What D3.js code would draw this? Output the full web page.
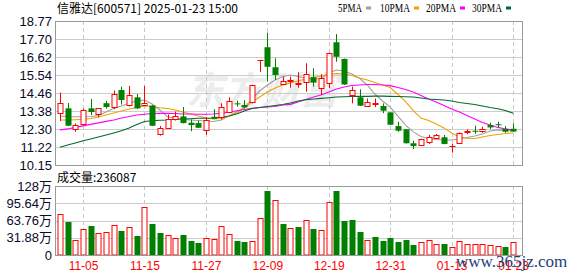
<!DOCTYPE html>
<html><head><meta charset="utf-8">
<script src="https://cdn.jsdelivr.net/npm/d3@7"></script>
<style>
body{margin:0;background:#fff;}
svg{display:block;}
text{font-family:"Liberation Sans",Arial,sans-serif;}
</style></head>
<body><svg id="c" width="578" height="276"></svg>
<script>
const title = "信雅达[600571] 2025-01-23 15:00";
const volLabelText = "成交量:236087";
const dates = ["10-31","11-01","11-04","11-05","11-06","11-07","11-08","11-11","11-12","11-13","11-14","11-15","11-18","11-19","11-20","11-21","11-22","11-25","11-26","11-27","11-28","11-29","12-02","12-03","12-04","12-05","12-06","12-09","12-10","12-11","12-12","12-13","12-16","12-17","12-18","12-19","12-20","12-23","12-24","12-25","12-26","12-27","12-30","12-31","01-02","01-03","01-06","01-07","01-08","01-09","01-10","01-13","01-14","01-15","01-16","01-17","01-20","01-21","01-22","01-23"];
const openP  = [13.25,13.54,12.33,12.60,13.54,13.20,13.85,13.60,14.64,13.74,14.20,13.72,13.71,12.00,12.39,12.93,13.06,12.68,12.66,12.25,13.04,13.04,13.34,13.84,13.74,13.94,16.43,17.20,16.00,15.02,15.18,14.98,15.14,15.40,14.78,15.04,17.50,16.50,14.34,14.20,13.70,13.82,13.68,13.30,12.48,12.29,11.45,11.35,11.55,11.75,11.81,11.27,11.47,12.14,12.20,12.20,12.54,12.59,12.31,12.32];
const highP  = [14.49,13.86,12.63,13.52,14.10,13.56,13.99,14.61,14.84,14.88,14.40,14.88,13.74,12.48,13.17,13.35,13.62,12.87,12.80,13.01,13.49,13.84,14.20,14.00,14.04,14.96,16.43,18.07,16.54,15.44,15.44,15.70,16.24,15.94,15.58,16.87,17.99,16.52,14.84,14.68,14.13,14.13,13.84,13.32,12.74,12.30,11.60,11.72,11.95,12.01,11.95,11.41,12.10,12.30,12.50,12.44,12.68,12.74,12.48,12.64];
const lowP   = [12.78,12.48,12.14,12.54,13.14,13.00,13.52,13.49,13.77,13.65,13.50,13.68,12.48,11.91,12.37,12.81,12.64,12.17,12.36,11.95,12.90,12.88,13.25,13.64,13.54,13.84,15.73,15.14,15.24,14.94,14.78,14.78,14.54,14.84,14.34,14.74,16.33,14.94,13.84,13.68,13.68,13.62,13.25,12.54,12.14,11.44,11.11,11.33,11.41,11.71,11.39,10.89,11.45,11.99,12.01,12.08,12.30,12.38,12.08,12.13];
const closeP = [13.84,12.50,12.53,13.42,13.32,13.54,13.62,14.40,14.04,14.34,13.54,13.84,12.50,12.39,12.93,13.11,12.66,12.54,12.38,12.84,12.92,13.60,13.96,13.78,13.60,14.94,16.43,16.03,15.54,15.18,15.24,15.04,15.58,15.08,15.34,16.87,16.63,14.97,14.64,13.70,13.90,13.88,13.40,12.56,12.20,11.45,11.29,11.69,11.81,11.95,11.41,11.30,12.06,12.18,12.14,12.30,12.40,12.54,12.14,12.15];
const ma5  = [13.08,13.05,13.04,13.04,13.05,13.11,13.32,13.54,13.68,13.86,13.98,14.04,13.80,13.44,13.04,12.95,12.87,12.84,12.81,12.78,12.75,12.84,13.08,13.34,13.59,14.10,14.58,14.94,15.24,15.45,15.54,15.45,15.34,15.30,15.33,15.66,15.84,15.78,15.60,15.34,14.94,14.40,13.98,13.62,13.08,12.54,12.13,11.86,11.74,11.68,11.65,11.65,11.71,11.80,11.89,12.01,12.19,12.25,12.22,12.21];
const ma10 = [12.84,12.84,12.86,12.89,12.93,13.02,13.14,13.26,13.38,13.50,13.59,13.68,13.65,13.58,13.53,13.44,13.32,13.20,13.08,12.96,12.90,12.93,13.08,13.26,13.56,13.92,14.22,14.52,14.76,14.94,15.06,15.18,15.30,15.39,15.48,15.57,15.63,15.60,15.51,15.36,15.24,15.09,14.94,14.79,14.37,13.95,13.41,12.96,12.81,12.60,12.37,12.07,11.83,11.75,11.74,11.83,11.92,11.98,12.04,12.07];
const ma20 = [12.25,12.31,12.40,12.49,12.58,12.67,12.76,12.84,12.96,13.05,13.14,13.19,13.23,13.24,13.24,13.23,13.20,13.20,13.19,13.19,13.20,13.24,13.32,13.40,13.47,13.54,13.59,13.62,13.65,13.74,13.78,13.92,14.07,14.22,14.34,14.52,14.70,14.82,14.91,14.94,14.97,14.97,14.94,14.90,14.79,14.67,14.52,14.31,14.10,13.92,13.71,13.50,13.32,13.11,12.90,12.69,12.54,12.40,12.31,12.25];
const ma30 = [11.21,11.35,11.47,11.60,11.71,11.83,11.95,12.07,12.20,12.37,12.57,12.75,12.80,12.83,12.84,12.89,12.90,12.92,12.95,12.95,12.96,13.01,13.08,13.20,13.38,13.53,13.59,13.65,13.71,13.77,13.86,13.98,14.06,14.10,14.14,14.18,14.22,14.24,14.25,14.26,14.26,14.27,14.27,14.26,14.25,14.24,14.22,14.16,14.10,14.07,14.04,13.98,13.89,13.83,13.77,13.68,13.59,13.52,13.41,13.25];
const volume = [75.8,61.0,27.7,48.0,53.6,40.7,42.5,55.4,44.4,51.7,35.1,88.7,57.3,40.7,37.0,31.4,37.0,25.9,22.2,31.4,29.6,53.6,38.8,25.9,24.0,25.9,68.4,118.3,101.6,57.3,49.9,51.7,64.7,48.0,46.2,97.9,118.3,62.8,64.7,42.5,27.7,33.3,25.9,31.4,24.0,27.7,18.5,24.0,27.7,20.3,20.3,14.8,25.9,20.3,20.3,20.3,18.5,16.6,14.8,23.6];
const volUp = [1,0,1,1,0,1,1,1,0,1,0,1,0,0,1,1,0,0,0,1,1,1,1,0,0,1,1,0,1,0,1,0,1,0,1,1,0,0,0,0,1,0,0,0,0,0,0,1,1,1,0,1,1,1,1,1,1,1,0,1];
const priceTicks = [18.77,17.70,16.62,15.54,14.46,13.38,12.30,11.22,10.15];
const volTicks = [127.52,95.64,63.76,31.88,0];
const volTickLabels = ["128万","95.64万","63.76万","31.88万","0"];
const dateTicks = ["11-05","11-15","11-27","12-09","12-19","12-31","01-13","01-23"];
const maNames = ["5PMA","10PMA","20PMA","30PMA"];
const maColors = ["#a0a0a0","#f0a000","#ff00ff","#006a30"];
const maSeries = [ma5, ma10, ma20, ma30];

const RED = "#ff0000", GREEN = "#008000";
const svg = d3.select("#c");
const L = 55, R = 522, T1 = 21, B1 = 165, T2 = 186, B2 = 255;

const x = d3.scalePoint().domain(dates).range([60, 513.1]);
const y = d3.scaleLinear().domain([10.15, 18.77]).range([B1, T1]);
const yv = d3.scaleLinear().domain([0, 127.52]).range([B2, T2]);

// watermark
svg.append("text").attr("x", 262).attr("y", 104).attr("text-anchor","middle")
  .style("font-family","'Noto Sans CJK SC'").style("font-size","38px").style("font-weight","bold")
  .style("font-style","italic").attr("fill","#ececec").text("东方财富");

// grids - price
const gP = svg.append("g");
gP.selectAll("line.h").data(priceTicks.slice(1, -1)).join("line")
  .attr("x1", L).attr("x2", R).attr("y1", d => Math.round(y(d)) + 0.5).attr("y2", d => Math.round(y(d)) + 0.5)
  .attr("stroke", "#cccccc");
gP.selectAll("line.v").data(dateTicks).join("line")
  .attr("x1", d => Math.round(x(d)) + 0.5).attr("x2", d => Math.round(x(d)) + 0.5)
  .attr("y1", T1).attr("y2", B1).attr("stroke", "#c8c8c8").attr("stroke-dasharray", "4,3");
// grids - volume
const gV = svg.append("g");
gV.selectAll("line.h").data(volTicks.slice(1, -1)).join("line")
  .attr("x1", L).attr("x2", R).attr("y1", d => Math.round(yv(d)) + 0.5).attr("y2", d => Math.round(yv(d)) + 0.5)
  .attr("stroke", "#cccccc");
gV.selectAll("line.v").data(dateTicks).join("line")
  .attr("x1", d => Math.round(x(d)) + 0.5).attr("x2", d => Math.round(x(d)) + 0.5)
  .attr("y1", T2).attr("y2", B2).attr("stroke", "#c8c8c8").attr("stroke-dasharray", "4,3");

// MA lines
const idx = d3.range(dates.length);
maSeries.forEach((s, k) => {
  svg.append("path").datum(idx)
    .attr("d", d3.line().x(i => x(dates[i])).y(i => y(s[i])))
    .attr("fill", "none").attr("stroke", maColors[k]).attr("stroke-width", 1.1);
});

// candles
const bw = 5;
const cg = svg.append("g");
idx.forEach(i => {
  const up = closeP[i] >= openP[i];
  const col = up ? RED : GREEN;
  const cx = Math.round(x(dates[i])) + 0.5;
  const yt = y(Math.max(openP[i], closeP[i])), yb = y(Math.min(openP[i], closeP[i]));
  cg.append("line").attr("x1", cx).attr("x2", cx).attr("y1", y(highP[i])).attr("y2", y(lowP[i]))
    .attr("stroke", col).attr("stroke-width", 1);
  if (up) {
    cg.append("rect").attr("x", cx - bw/2).attr("y", Math.round(yt) + 0.5).attr("width", bw)
      .attr("height", Math.max(0.01, Math.round(yb) - Math.round(yt)))
      .attr("fill", "#fff").attr("stroke", col).attr("stroke-width", 1);
  } else {
    cg.append("rect").attr("x", cx - bw/2 - 0.5).attr("y", yt).attr("width", bw + 1)
      .attr("height", Math.max(1, yb - yt)).attr("fill", col);
  }
});

// volume bars
const vg = svg.append("g");
idx.forEach(i => {
  const cx = Math.round(x(dates[i])) + 0.5;
  if (volUp[i]) {
    vg.append("rect").attr("x", cx - bw/2).attr("y", Math.round(yv(volume[i])) + 0.5).attr("width", bw)
      .attr("height", B2 - Math.round(yv(volume[i])) - 0.5).attr("fill", "#fff").attr("stroke", RED);
  } else {
    vg.append("rect").attr("x", cx - bw/2 - 0.5).attr("y", yv(volume[i])).attr("width", bw + 1)
      .attr("height", B2 - yv(volume[i])).attr("fill", GREEN);
  }
});

// frames
svg.append("rect").attr("x", L + 0.5).attr("y", T1 + 0.5).attr("width", R - L).attr("height", B1 - T1)
  .attr("fill", "none").attr("stroke", "#999");
svg.append("rect").attr("x", L + 0.5).attr("y", T2 + 0.5).attr("width", R - L).attr("height", B2 - T2)
  .attr("fill", "none").attr("stroke", "#999");

// axes
const ax = svg.append("g").attr("transform", `translate(${L},0)`)
  .call(d3.axisLeft(y).tickValues(priceTicks).tickFormat(d3.format(".2f")).tickSize(0).tickPadding(3));
ax.select(".domain").remove();
ax.selectAll("text").style("font-size", "13px").attr("fill", "#0a0a2a");
const axv = svg.append("g").attr("transform", `translate(${L},0)`)
  .call(d3.axisLeft(yv).tickValues(volTicks).tickFormat((d, i) => volTickLabels[i]).tickSize(0).tickPadding(3));
axv.select(".domain").remove();
axv.selectAll("text").style("font-size", "13px").style("font-family", "'Liberation Sans','Noto Sans CJK SC'").attr("fill", "#0a0a2a");
const axx = svg.append("g").attr("transform", `translate(0,${B2})`)
  .call(d3.axisBottom(x).tickValues(dateTicks).tickSize(0).tickPadding(6));
axx.select(".domain").remove();
axx.selectAll("text").style("font-size", "12px").attr("fill", "#ff0000");

// title
svg.append("text").attr("x", 57).attr("y", 13).style("font-size", "12px")
  .style("font-family", "'Noto Sans CJK SC'").attr("fill", "#000").text(title);
svg.append("text").attr("x", 57).attr("y", 182).style("font-size", "12px")
  .style("font-family", "'Noto Sans CJK SC'").attr("fill", "#000").text(volLabelText);

// legend
const legX = [338, 380, 426, 472];
const legW = [24, 30, 30, 30];
maNames.forEach((n, k) => {
  svg.append("text").attr("x", legX[k]).attr("y", 12).style("font-size", "11.5px")
    .style("font-family", "'Liberation Serif'").attr("textLength", legW[k]).attr("lengthAdjust","spacingAndGlyphs")
    .attr("fill", "#000").text(n);
  svg.append("rect").attr("x", legX[k] + legW[k] + 4).attr("y", 6.5).attr("width", 5).attr("height", 3)
    .attr("fill", maColors[k]);
});

// site watermark
svg.append("text").attr("x", 456).attr("y", 267).style("font-size", "17px")
  .style("font-family", "'Liberation Serif'").attr("fill", "#1e3f7a").text("www.365jz.com");
</script></body></html>
